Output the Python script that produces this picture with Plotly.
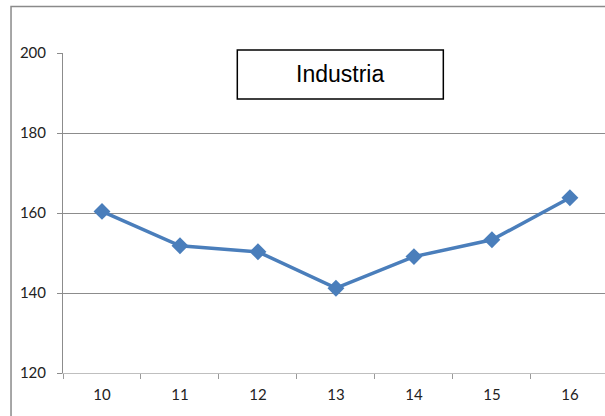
import plotly.graph_objects as go

categories = ["10", "11", "12", "13", "14", "15", "16"]
values = [160.4, 151.8, 150.3, 141.2, 149.1, 153.3, 163.8]
y_ticks = [120, 140, 160, 180, 200]
title_text = "Industria"

fig = go.Figure()
fig.add_trace(go.Scatter(
    x=categories, y=values, mode="lines+markers",
    line=dict(color="#4a7ebb", width=3.5),
    marker=dict(symbol="diamond", size=13, color="#4a7ebb"),
    showlegend=False,
))

grid = "#8c8c8c"
fig.update_layout(
    width=605, height=416,
    margin=dict(l=63, r=0, t=53, b=43),
    paper_bgcolor="white", plot_bgcolor="white",
    font=dict(family="Lato, Open Sans, sans-serif", size=15, color="#222"),
    xaxis=dict(
        type="category", range=[-0.5, 6.45],
        showgrid=False, showline=True, linecolor="#bfbfbf", linewidth=1,
        ticks="outside", ticklen=5, tickcolor="#9a9a9a", tickson="boundaries",
        ticklabelstandoff=8, zeroline=False,
    ),
    yaxis=dict(
        range=[120, 200], tickvals=y_ticks,
        showgrid=True, gridcolor=grid, gridwidth=1,
        showline=True, linecolor=grid, linewidth=1,
        ticks="outside", ticklen=5, tickcolor=grid,
        ticklabelstandoff=8, zeroline=False,
    ),
)

# outer chart frame
fig.add_shape(type="rect", xref="paper", yref="paper",
              x0=-0.0959, x1=1.05, y0=-0.2, y1=1.145,
              line=dict(color="#8a8a8a", width=1.5), layer="above")
# title box
fig.add_shape(type="rect", xref="paper", yref="paper",
              x0=0.3216, x1=0.7017, y0=0.856, y1=1.009,
              line=dict(color="black", width=1.5), fillcolor="white", layer="above")
fig.add_annotation(text=title_text, xref="paper", yref="paper",
                   x=0.5117, y=0.933, xanchor="center", yanchor="middle",
                   showarrow=False,
                   font=dict(family="Liberation Sans, Arial", size=23, color="black"))

fig.write_html("out.html", config={"displayModeBar": False},
               post_script="document.body.style.margin='0';document.body.style.overflow='hidden';")
